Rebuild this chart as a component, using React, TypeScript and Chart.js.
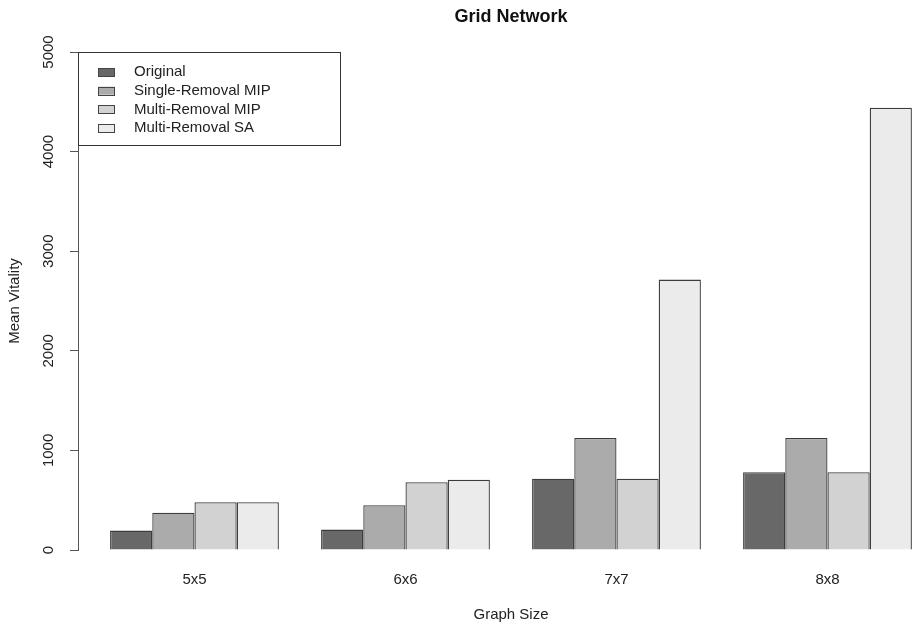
import React, { useEffect, useRef } from 'react';
import { Chart, registerables } from 'chart.js';

Chart.register(...registerables);

const categories = ['5x5', '6x6', '7x7', '8x8'];
const seriesNames = ['Original', 'Single-Removal MIP', 'Multi-Removal MIP', 'Multi-Removal SA'];
const original = [195, 205, 715, 780];
const singleRemovalMIP = [375, 450, 1125, 1125];
const multiRemovalMIP = [480, 680, 715, 780];
const multiRemovalSA = [480, 705, 2715, 4440];
const yTicks = [0, 1000, 2000, 3000, 4000, 5000];
const colors = ['#686868', '#ABABAB', '#D2D2D2', '#EBEBEB'];

const titleText = 'Grid Network';
const xTitle = 'Graph Size';
const yTitle = 'Mean Vitality';

const FONT = '"Liberation Sans", Arial, sans-serif';
const TEXT = '#222222';

const overlay = {
  id: 'overlay',
  afterDraw(chart: any) {
    const ctx = chart.ctx as CanvasRenderingContext2D;
    const ca = chart.chartArea;
    const y = chart.scales.y;
    const x = chart.scales.x;
    ctx.save();
    // title
    ctx.fillStyle = '#111';
    ctx.font = `bold 18px ${FONT}`;
    ctx.textAlign = 'center';
    ctx.textBaseline = 'middle';
    const plotCenter = (x.getPixelForValue(-0.552) + x.getPixelForValue(3.552)) / 2;
    ctx.fillText(titleText, plotCenter, 17);

    // y tick labels (rotated)
    ctx.fillStyle = TEXT;
    ctx.font = `15px ${FONT}`;
    for (const t of yTicks) {
      const py = y.getPixelForValue(t);
      ctx.save();
      ctx.translate(49, py);
      ctx.rotate(-Math.PI / 2);
      ctx.fillText(String(t), 0, 0);
      ctx.restore();
    }
    // y title
    ctx.save();
    ctx.translate(15, (ca.top + ca.bottom) / 2);
    ctx.rotate(-Math.PI / 2);
    ctx.fillText(yTitle, 0, 0);
    ctx.restore();
    // x title
    ctx.fillText(xTitle, plotCenter, 615);

    // legend
    ctx.strokeStyle = '#333';
    ctx.lineWidth = 1;
    ctx.strokeRect(78.5, 52.5, 262, 93);
    ctx.textAlign = 'left';
    chart.data.datasets.forEach((ds: any, i: number) => {
      const cy = 72 + i * 18.7;
      ctx.fillStyle = ds.backgroundColor;
      ctx.fillRect(98, cy - 4, 17, 8);
      ctx.strokeStyle = '#444';
      ctx.strokeRect(98.5, Math.round(cy - 4) + 0.5, 16, 8);
      ctx.fillStyle = TEXT;
      ctx.fillText(ds.label, 134, cy);
    });
    ctx.restore();
  },
};

export default function App() {
  const ref = useRef<HTMLCanvasElement | null>(null);
  useEffect(() => {
    document.body.style.margin = '0';
    const series = [original, singleRemovalMIP, multiRemovalMIP, multiRemovalSA];
    const chart = new Chart(ref.current as HTMLCanvasElement, {
      type: 'bar',
      data: {
        datasets: series.map((vals, i) => ({
          label: seriesNames[i],
          data: vals.map((v, j) => ({ x: j, y: v })),
          backgroundColor: colors[i],
          borderColor: '#3c3c3c',
          borderWidth: 1.3,
          categoryPercentage: 0.8,
          barPercentage: 1.0,
        })),
      },
      options: {
        responsive: false,
        animation: false,
        layout: { padding: { top: 52, left: 0, right: 0, bottom: 0 } },
        plugins: { legend: { display: false }, title: { display: false }, tooltip: { enabled: false } },
        scales: {
          x: {
            type: 'linear',
            offset: false,
            min: -0.552,
            max: 3.41,
            afterBuildTicks: (scale: any) => {
              scale.ticks = categories.map((_, i) => ({ value: i }));
            },
            afterFit: (scale: any) => {
              scale.height = 78;
            },
            grid: { display: false, drawTicks: false, offset: false },
            border: { display: false },
            ticks: {
              padding: 21,
              color: TEXT,
              font: { family: FONT, size: 15 },
              maxRotation: 0,
              autoSkip: false,
              callback: (v: any) => categories[v as number] ?? '',
            },
          },
          y: {
            type: 'linear',
            min: 0,
            max: 5000,
            afterBuildTicks: (scale: any) => {
              scale.ticks = yTicks.map((v) => ({ value: v }));
            },
            afterFit: (scale: any) => {
              scale.width = 78;
            },
            grid: { drawOnChartArea: false, drawTicks: true, tickLength: 8, color: '#555', lineWidth: 1 },
            border: { display: true, color: '#555', width: 1 },
            ticks: { display: false },
          },
        },
      },
      plugins: [overlay],
    });
    return () => chart.destroy();
  }, []);
  return <canvas ref={ref} width={914} height={628} style={{ display: 'block' }} />;
}
